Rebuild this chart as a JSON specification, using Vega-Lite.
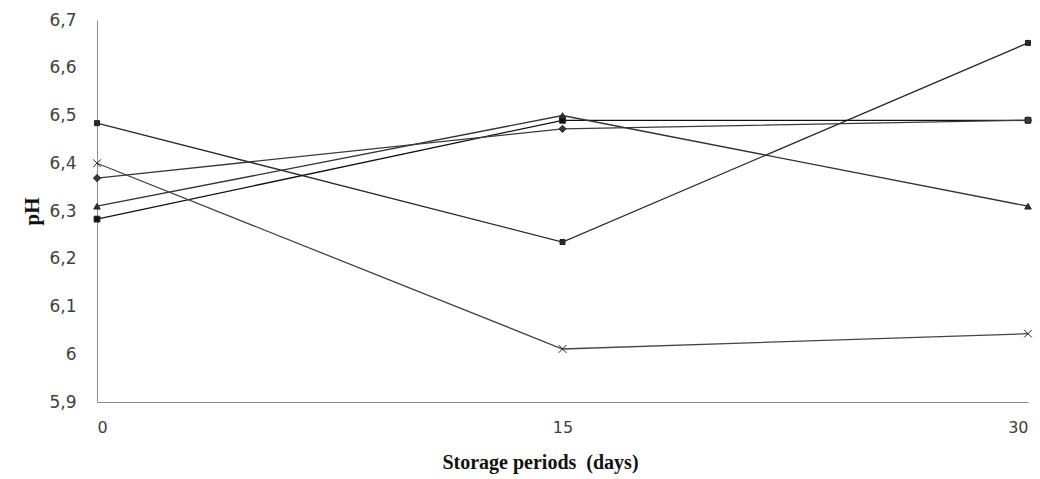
{
  "$schema": "https://vega.github.io/schema/vega-lite/v6.json",
  "autosize": "none",
  "width": 931,
  "height": 382,
  "padding": {"left": 97, "top": 20, "right": 12, "bottom": 77},
  "background": "white",
  "config": {
    "view": {"stroke": null},
    "locale": {"number": {"decimal": ",", "thousands": ".", "grouping": [3], "currency": ["", " €"]}}
  },
  "data": {"values": [
    {"series": "A", "day": 0, "pH": 6.484},
    {"series": "A", "day": 15, "pH": 6.235},
    {"series": "A", "day": 30, "pH": 6.652},
    {"series": "B", "day": 0, "pH": 6.283},
    {"series": "B", "day": 15, "pH": 6.49},
    {"series": "B", "day": 30, "pH": 6.49},
    {"series": "C", "day": 0, "pH": 6.31},
    {"series": "C", "day": 15, "pH": 6.50},
    {"series": "C", "day": 30, "pH": 6.31},
    {"series": "D", "day": 0, "pH": 6.369},
    {"series": "D", "day": 15, "pH": 6.472},
    {"series": "D", "day": 30, "pH": 6.49},
    {"series": "E", "day": 0, "pH": 6.40},
    {"series": "E", "day": 15, "pH": 6.011},
    {"series": "E", "day": 30, "pH": 6.043}
  ]},
  "encoding": {
    "x": {
      "field": "day", "type": "quantitative",
      "scale": {"domain": [0, 30], "nice": false, "zero": false},
      "axis": {
        "values": [0, 15, 30], "grid": false, "ticks": false,
        "domainColor": "#8c8c8c", "domainWidth": 1,
        "labelFont": "DejaVu Sans", "labelFontSize": 16, "labelColor": "#404040",
        "labelPadding": 17,
        "title": "Storage periods \u00a0(days)", "titleFont": "Liberation Serif",
        "titleFontSize": 20, "titleFontWeight": "bold", "titleColor": "#111",
        "titlePadding": 17, "titleX": 443
      }
    },
    "y": {
      "field": "pH", "type": "quantitative",
      "scale": {"domain": [5.9, 6.7], "nice": false, "zero": false},
      "axis": {
        "values": [5.9, 6.0, 6.1, 6.2, 6.3, 6.4, 6.5, 6.6, 6.7],
        "format": ".1~f", "grid": false, "ticks": false,
        "domainColor": "#8c8c8c", "domainWidth": 1,
        "labelFont": "DejaVu Sans", "labelFontSize": 17, "labelColor": "#404040",
        "labelPadding": 21,
        "title": "pH", "titleFont": "Liberation Serif", "titleFontSize": 21,
        "titleFontWeight": "bold", "titleColor": "#111", "titlePadding": 6
      }
    },
    "color": {
      "field": "series", "type": "nominal", "legend": null,
      "scale": {"domain": ["A", "B", "C", "D", "E"], "range": ["#2a2a2a", "#111111", "#333333", "#3a3a3a", "#444444"]}
    }
  },
  "layer": [
    {
      "mark": {"type": "line", "strokeWidth": 1.3},
      "encoding": {
        "detail": {"field": "series"}
      }
    },
    {
      "mark": {"type": "point", "filled": true, "opacity": 1, "stroke": "#222", "strokeWidth": 1},
      "encoding": {
        "shape": {
          "field": "series", "type": "nominal", "legend": null,
          "scale": {"domain": ["A", "B", "C", "D", "E"], "range": ["square", "square", "triangle-up", "diamond", "M-1,-1L1,1M-1,1L1,-1"]}
        },
        "size": {
          "field": "series", "type": "nominal", "legend": null,
          "scale": {"domain": ["A", "B", "C", "D", "E"], "range": [25, 60, 30, 30, 40]}
        }
      }
    }
  ]
}
